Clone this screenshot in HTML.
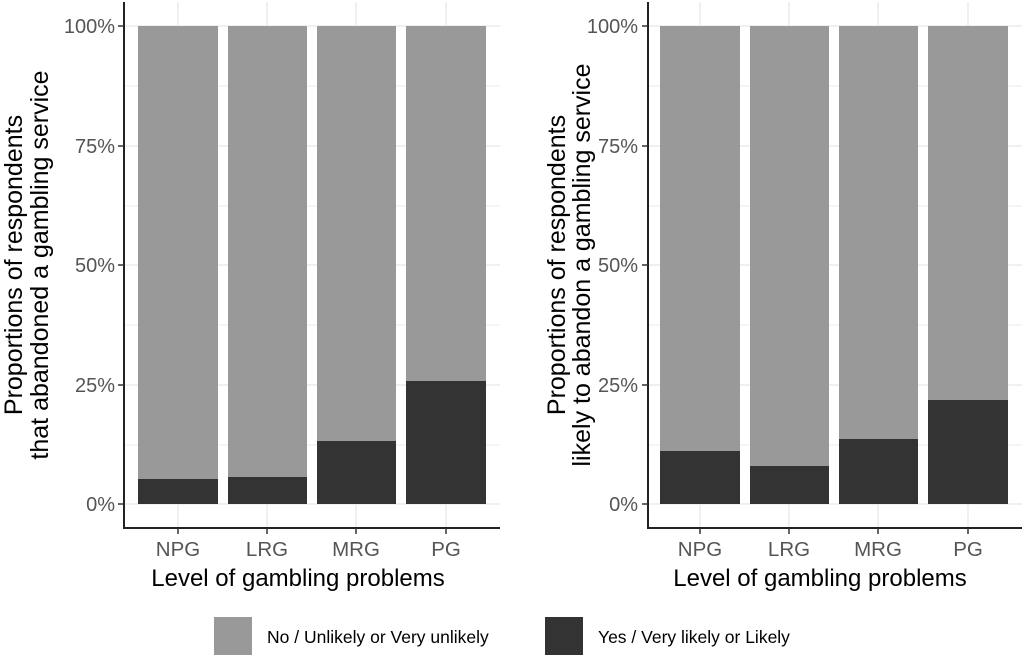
<!DOCTYPE html><html><head><style>body{margin:0;background:#fff}svg{display:block}text{font-family:"Liberation Sans",sans-serif}</style></head><body>
<svg width="1024" height="658" viewBox="0 0 1024 658">
<g stroke="#ebebeb" stroke-width="1">
<line x1="124" x2="500" y1="86" y2="86"/><line x1="124" x2="500" y1="206" y2="206"/><line x1="124" x2="500" y1="325" y2="325"/><line x1="124" x2="500" y1="445" y2="445"/>
<line x1="124" x2="500" y1="26" y2="26" stroke-width="1.5"/><line x1="124" x2="500" y1="146" y2="146" stroke-width="1.5"/><line x1="124" x2="500" y1="265" y2="265" stroke-width="1.5"/><line x1="124" x2="500" y1="385" y2="385" stroke-width="1.5"/><line x1="124" x2="500" y1="504" y2="504" stroke-width="1.5"/>
<line x1="178" x2="178" y1="2" y2="528" stroke-width="1.5"/><line x1="267" x2="267" y1="2" y2="528" stroke-width="1.5"/><line x1="356" x2="356" y1="2" y2="528" stroke-width="1.5"/><line x1="446" x2="446" y1="2" y2="528" stroke-width="1.5"/>
</g>
<rect x="138" y="26" width="80" height="478" fill="#999"/><rect x="228" y="26" width="79" height="478" fill="#999"/><rect x="317" y="26" width="79" height="478" fill="#999"/><rect x="406" y="26" width="80" height="478" fill="#999"/>
<rect x="138" y="479" width="80" height="25" fill="#333"/><rect x="228" y="477" width="79" height="27" fill="#333"/><rect x="317" y="441" width="79" height="63" fill="#333"/><rect x="406" y="381" width="80" height="123" fill="#333"/>
<path d="M124 2V528H500" fill="none" stroke="#222" stroke-width="2"/>
<g stroke="#333" stroke-width="1.5"><line x1="118" x2="124" y1="26" y2="26"/><line x1="118" x2="124" y1="146" y2="146"/><line x1="118" x2="124" y1="265" y2="265"/><line x1="118" x2="124" y1="385" y2="385"/><line x1="118" x2="124" y1="504" y2="504"/>
<line x1="178" x2="178" y1="528" y2="534"/><line x1="267" x2="267" y1="528" y2="534"/><line x1="356" x2="356" y1="528" y2="534"/><line x1="446" x2="446" y1="528" y2="534"/></g>
<g fill="#555" font-size="20" text-anchor="end"><text x="115" y="33">100%</text><text x="115" y="153">75%</text><text x="115" y="272">50%</text><text x="115" y="392">25%</text><text x="115" y="511">0%</text></g>
<g fill="#555" font-size="20.5" text-anchor="middle"><text x="178" y="556">NPG</text><text x="267" y="556">LRG</text><text x="356" y="556">MRG</text><text x="446" y="556">PG</text></g>
<text x="298" y="586" font-size="24" text-anchor="middle">Level of gambling problems</text>
<text transform="translate(22,265) rotate(-90)" font-size="25" text-anchor="middle">Proportions of respondents</text>
<text transform="translate(48,265) rotate(-90)" font-size="25" text-anchor="middle">that abandoned a gambling service</text>

<g stroke="#ebebeb" stroke-width="1">
<line x1="648" x2="1022" y1="86" y2="86"/><line x1="648" x2="1022" y1="206" y2="206"/><line x1="648" x2="1022" y1="325" y2="325"/><line x1="648" x2="1022" y1="445" y2="445"/>
<line x1="648" x2="1022" y1="26" y2="26" stroke-width="1.5"/><line x1="648" x2="1022" y1="146" y2="146" stroke-width="1.5"/><line x1="648" x2="1022" y1="265" y2="265" stroke-width="1.5"/><line x1="648" x2="1022" y1="385" y2="385" stroke-width="1.5"/><line x1="648" x2="1022" y1="504" y2="504" stroke-width="1.5"/>
<line x1="700" x2="700" y1="2" y2="528" stroke-width="1.5"/><line x1="789" x2="789" y1="2" y2="528" stroke-width="1.5"/><line x1="878" x2="878" y1="2" y2="528" stroke-width="1.5"/><line x1="968" x2="968" y1="2" y2="528" stroke-width="1.5"/>
</g>
<rect x="660" y="26" width="80" height="478" fill="#999"/><rect x="750" y="26" width="79" height="478" fill="#999"/><rect x="839" y="26" width="79" height="478" fill="#999"/><rect x="928" y="26" width="80" height="478" fill="#999"/>
<rect x="660" y="451" width="80" height="53" fill="#333"/><rect x="750" y="466" width="79" height="38" fill="#333"/><rect x="839" y="439" width="79" height="65" fill="#333"/><rect x="928" y="400" width="80" height="104" fill="#333"/>
<path d="M648 2V528H1022" fill="none" stroke="#222" stroke-width="2"/>
<g stroke="#333" stroke-width="1.5"><line x1="642" x2="648" y1="26" y2="26"/><line x1="642" x2="648" y1="146" y2="146"/><line x1="642" x2="648" y1="265" y2="265"/><line x1="642" x2="648" y1="385" y2="385"/><line x1="642" x2="648" y1="504" y2="504"/>
<line x1="700" x2="700" y1="528" y2="534"/><line x1="789" x2="789" y1="528" y2="534"/><line x1="878" x2="878" y1="528" y2="534"/><line x1="968" x2="968" y1="528" y2="534"/></g>
<g fill="#555" font-size="20" text-anchor="end"><text x="638" y="33">100%</text><text x="638" y="153">75%</text><text x="638" y="272">50%</text><text x="638" y="392">25%</text><text x="638" y="511">0%</text></g>
<g fill="#555" font-size="20.5" text-anchor="middle"><text x="700" y="556">NPG</text><text x="789" y="556">LRG</text><text x="878" y="556">MRG</text><text x="968" y="556">PG</text></g>
<text x="820" y="586" font-size="24" text-anchor="middle">Level of gambling problems</text>
<text transform="translate(565,265) rotate(-90)" font-size="25" text-anchor="middle">Proportions of respondents</text>
<text transform="translate(590,265) rotate(-90)" font-size="25" text-anchor="middle">likely to abandon a gambling service</text>

<rect x="214" y="617" width="38" height="38" fill="#999"/>
<text x="267" y="643" font-size="17.5">No / Unlikely or Very unlikely</text>
<rect x="545" y="617" width="38" height="38" fill="#333"/>
<text x="598" y="643" font-size="17.5">Yes / Very likely or Likely</text>
</svg></body></html>
